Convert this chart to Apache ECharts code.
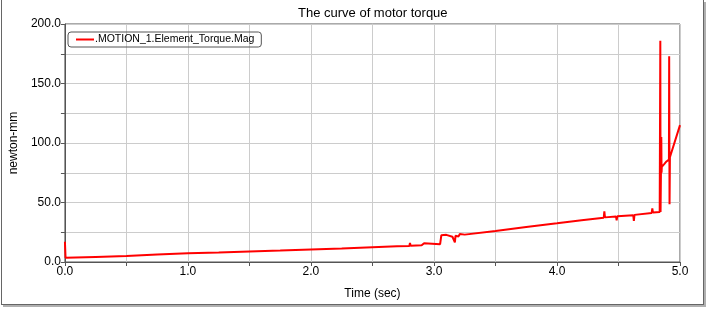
<!DOCTYPE html>
<html>
<head>
<meta charset="utf-8">
<script src="https://cdn.jsdelivr.net/npm/echarts@6/dist/echarts.min.js"></script>
<style>
  html, body { margin: 0; padding: 0; background: #fff; }
  #frame {
    position: absolute; left: 1px; top: 0; width: 701px; height: 304px;
    border-left: 1px solid #666; border-right: 1px solid #666; border-bottom: 1px solid #666;
    box-shadow: 2px 2px 0 #b0b0b0;
  }
  #chart { position: absolute; left: 0; top: 0; width: 708px; height: 311px; }
</style>
</head>
<body>
<div id="frame"></div>
<div id="chart"></div>
<script>
  // time (sec) and torque (newton-mm)
  var timeData = [
    0.0, 0.0, 0.005, 0.25, 0.5, 0.75, 1.0, 1.25, 1.5, 1.75, 2.0, 2.25, 2.5,
    2.7, 2.8, 2.805, 2.81, 2.9, 2.92, 2.93, 3.05, 3.06, 3.1, 3.15, 3.17, 3.175,
    3.2, 3.21, 3.22, 3.25, 3.5, 3.75, 4.0, 4.2, 4.38, 4.385, 4.39, 4.48, 4.485,
    4.49, 4.62, 4.625, 4.63, 4.77, 4.775, 4.78, 4.835, 4.84, 4.842, 4.848, 4.85,
    4.852, 4.87, 4.89, 4.91, 4.912, 4.915, 4.918, 5.0
  ];
  var torqueData = [
    17.0, 17.0, 3.6, 4.3, 5.0, 6.2, 7.3, 8.0, 8.8, 9.6, 10.5, 11.4, 12.4,
    13.2, 13.5, 16.0, 13.6, 14.0, 15.8, 15.0, 15.0, 22.5, 22.8, 21.2, 16.5, 22.0,
    21.5, 23.5, 22.0, 23.0, 26.0, 29.5, 32.5, 35.0, 37.2, 42.5, 37.5, 38.2, 35.0,
    38.4, 39.3, 34.5, 39.6, 41.2, 45.0, 41.5, 42.0, 186.0, 42.0, 105.0, 75.0,
    80.0, 82.0, 84.5, 86.0, 173.0, 48.5, 88.0, 115.0
  ];
  var seriesName = '.MOTION_1.Element_Torque.Mag';

  var points = timeData.map(function (t, i) { return [t, torqueData[i]]; });
  var chart = echarts.init(document.getElementById('chart'));
  var font = 'Liberation Sans, Arial, sans-serif';

  chart.setOption({
    animation: false,
    textStyle: { fontFamily: font },
    title: {
      text: 'The curve of motor torque',
      left: 293,
      top: 2,
      textStyle: { fontSize: 13, fontWeight: 'normal', color: '#000', fontFamily: font }
    },
    legend: {
      left: 68,
      top: 32,
      padding: [2, 7, 2, 8],
      itemWidth: 18,
      itemHeight: 2,
      itemGap: 2,
      borderColor: '#555',
      borderWidth: 1,
      borderRadius: 3,
      textStyle: { fontSize: 10.5, color: '#000', fontFamily: font, padding: [0, 0, 0, -4] },
      data: [{ name: seriesName, icon: 'rect' }]
    },
    grid: {
      left: 56,
      right: 28,
      top: 24,
      bottom: 49,
      show: true,
      borderColor: '#555',
      borderWidth: 1
    },
    xAxis: {
      type: 'value',
      min: 0,
      max: 5,
      interval: 0.5,
      name: 'Time (sec)',
      nameLocation: 'middle',
      nameGap: 26,
      nameTextStyle: { fontSize: 12, color: '#000', fontFamily: font },
      axisLine: { lineStyle: { color: '#555' } },
      axisTick: { show: true, length: 4, lineStyle: { color: '#555' } },
      axisLabel: {
        margin: 4,
        fontSize: 12,
        color: '#000',
        fontFamily: font,
        showMaxLabel: true,
        formatter: function (v) {
          return Math.abs(v - Math.round(v)) < 1e-6 ? v.toFixed(1) : '';
        }
      },
      splitLine: { show: true, lineStyle: { color: '#cccccc', width: 1 } }
    },
    yAxis: {
      type: 'value',
      min: 0,
      max: 200,
      interval: 25,
      name: 'newton-mm',
      nameLocation: 'middle',
      nameGap: 42,
      nameTextStyle: { fontSize: 12, color: '#000', fontFamily: font },
      axisLine: { show: true, lineStyle: { color: '#555' } },
      axisTick: { show: true, length: 4, lineStyle: { color: '#555' } },
      axisLabel: {
        margin: 4,
        fontSize: 12,
        color: '#000',
        fontFamily: font,
        formatter: function (v) {
          return v % 50 === 0 ? v.toFixed(1) : '';
        }
      },
      splitLine: { show: true, lineStyle: { color: '#cccccc', width: 1 } }
    },
    series: [{
      name: seriesName,
      type: 'line',
      showSymbol: false,
      color: '#ff0000',
      lineStyle: { width: 2, color: '#ff0000' },
      data: points
    }]
  });
</script>
</body>
</html>
